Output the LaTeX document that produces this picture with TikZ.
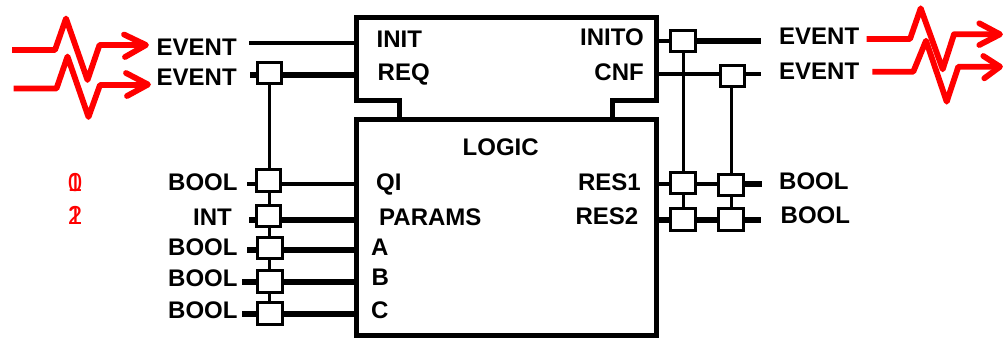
\documentclass[tikz,border=0pt]{standalone}
\usepackage{fontspec}
\setmainfont{Liberation Sans}
\tikzset{
  etiqueta/.style={inner sep=0pt, anchor=base west, font=\fontsize{24}{28}\selectfont\bfseries},
  etiquetad/.style={etiqueta, anchor=base east},
  digito/.style={inner sep=0pt, anchor=base, text=red, font=\fontsize{26}{28}\selectfont},
  bloque/.style={draw=black, line width=5pt, inner sep=0pt},
  adaptador/.style={draw=black, fill=white, line width=3pt, inner sep=0pt, minimum width=24.5pt, minimum height=21.5pt},
  cablefino/.style={line width=3pt},
  cablemedio/.style={line width=4pt},
  cablegrueso/.style={line width=6pt},
  evento/.style={draw=red, line width=5.8pt, line join=round},
  punta/.style={draw=red, line width=5.8pt, line join=round, line cap=round}
}
\begin{document}
\begin{tikzpicture}[x=1pt, y=-1pt]
    \useasboundingbox (0,0) rectangle (1003,338);
    % Bloque inferior
    \node[bloque, minimum width=300pt, minimum height=216pt] (logic) at (506.5,227) {};
    % Bloque superior
    \node[minimum width=300pt, minimum height=82.5pt, inner sep=0pt, outer sep=0pt] (ecc) at (506,58.75) {};
    \coordinate (unionl) at (399,119);
    \coordinate (unionr) at (612.5,119);
    \draw[line width=5pt] (unionl) |- (ecc.south west) |- (ecc.north east) |- (ecc.south -| unionr) -- (unionr);
    % Textos del bloque
    \node[etiqueta] (tinit) at (376.5,47.5) {INIT};
    \node[etiqueta] (treq) at (377.5,80) {REQ};
    \node[etiquetad] (tinito) at (644,45) {INITO};
    \node[etiquetad] (tcnf) at (644,80) {CNF};
    \node[etiqueta] (tlogic) at (462.5,155) {LOGIC};
    \node[etiqueta] (tqi) at (376,190) {QI};
    \node[etiqueta] (tparams) at (379,225.5) {PARAMS};
    \node[etiqueta] (ta) at (371,255.5) {A};
    \node[etiqueta] (tb) at (371.5,285.5) {B};
    \node[etiqueta] (tc) at (371,318) {C};
    \node[etiquetad] (tresa) at (641,190) {RES1};
    \node[etiquetad] (tresb) at (638.5,224) {RES2};
    % Tipos a la izquierda
    \node[etiqueta] (leva) at (156.5,55) {EVENT};
    \node[etiqueta] (levb) at (156.5,85) {EVENT};
    \node[etiqueta] (lba) at (168,190) {BOOL};
    \node[etiqueta] (lint) at (193,225.5) {INT};
    \node[etiqueta] (lbb) at (168,255.5) {BOOL};
    \node[etiqueta] (lbc) at (168,286.5) {BOOL};
    \node[etiqueta] (lbd) at (168,318) {BOOL};
    % Tipos a la derecha
    \node[etiqueta] (reva) at (779,44.5) {EVENT};
    \node[etiqueta] (revb) at (779,79.5) {EVENT};
    \node[etiqueta] (rba) at (779,189.5) {BOOL};
    \node[etiqueta] (rbb) at (780.5,223.5) {BOOL};
    % Digitos superpuestos
    \node[digito] (da) at (75,191.5) {0};
    \node[digito] (db) at (75,191.5) {1};
    \node[digito] (dc) at (75,224.5) {1};
    \node[digito] (dd) at (75,224.5) {2};
    % Adaptadores a la izquierda
    \node[adaptador] (areq) at (269.5,73) {};
    \node[adaptador] (aqi) at (268.5,180.5) {};
    \node[adaptador] (aint) at (268.5,216) {};
    \node[adaptador] (aa) at (270,248) {};
    \node[adaptador] (ab) at (270,281.5) {};
    \node[adaptador] (ac) at (270,313.7) {};
    % Adaptadores a la derecha
    \node[adaptador] (ainito) at (683,41) {};
    \node[adaptador] (acnf) at (732.5,76) {};
    \node[adaptador] (arsa) at (683,183) {};
    \node[adaptador] (arsb) at (731,185) {};
    \node[adaptador] (arsc) at (683,219.7) {};
    \node[adaptador] (arsd) at (731,219.7) {};
    % Entradas
    \coordinate (cinit) at (249,43);
    \coordinate (creq) at (250,75);
    \coordinate (cqi) at (247,184);
    \coordinate (cint) at (249,220);
    \coordinate (ca) at (247,250);
    \coordinate (cb) at (242,281.7);
    \coordinate (cbfin) at (359,281.7);
    \coordinate (cc) at (242,313.7);
    \draw[cablemedio] (cinit) -- (cinit -| ecc.west);
    \draw[cablegrueso] (creq) -- (creq -| areq.west);
    \draw[cablegrueso] (creq -| areq.east) -- (creq -| ecc.west);
    \draw[cablemedio] (cqi) -- (cqi -| aqi.west);
    \draw[cablemedio] (cqi -| aqi.east) -- (cqi -| logic.west);
    \draw[cablegrueso] (cint) -- (cint -| aint.west);
    \draw[cablegrueso] (cint -| aint.east) -- (cint -| logic.west);
    \draw[cablegrueso] (ca) -- (ca -| aa.west);
    \draw[cablegrueso] (ca -| aa.east) -- (ca -| logic.west);
    \draw[cablegrueso] (cb) -- (cb -| ab.west);
    \draw[cablegrueso] (cb -| ab.east) -- (cbfin);
    \draw[cablegrueso] (cc) -- (cc -| ac.west);
    \draw[cablegrueso] (cc -| ac.east) -- (cc -| logic.west);
    % Salidas
    \coordinate (cinito) at (761,40.7);
    \coordinate (ccnf) at (761,74.3);
    \coordinate (cresa) at (761.5,184.3);
    \coordinate (cresb) at (761,220);
    \draw[cablemedio] (cinito -| ecc.east) -- (cinito -| ainito.west);
    \draw[cablegrueso] (cinito -| ainito.east) -- (cinito);
    \draw[cablemedio] (ccnf -| ecc.east) -- (ccnf -| acnf.west);
    \draw[cablemedio] (ccnf -| acnf.east) -- (ccnf);
    \draw[cablemedio] (cresa -| logic.east) -- (cresa -| arsa.west);
    \draw[cablemedio] (cresa -| arsa.east) -- (cresa -| arsb.west);
    \draw[cablegrueso] (cresa -| arsb.east) -- (cresa);
    \draw[cablegrueso] (cresb -| logic.east) -- (cresb -| arsc.west);
    \draw[cablegrueso] (cresb -| arsc.east) -- (cresb -| arsd.west);
    \draw[cablegrueso] (cresb -| arsd.east) -- (cresb);
    % Uniones verticales
    \draw[cablefino] (areq) -- (aqi.north -| areq);
    \draw[cablefino] (aqi.south -| areq) -- (aint.north -| areq);
    \draw[cablefino] (aint.south -| areq) -- (aa.north -| areq);
    \draw[cablefino] (aa.south -| areq) -- (ab.north -| areq);
    \draw[cablefino] (ab.south -| areq) -- (ac.north -| areq);
    \draw[cablefino] (ainito) -- (arsa);
    \draw[cablefino] (arsa) -- (arsc);
    \draw[cablefino] (acnf.south -| arsb) -- (arsb);
    \draw[cablefino] (arsb) -- (arsd);
    % Pulsos de evento
    \draw[evento] (12,50) -- (55,50) -- (66,18.5) -- (87.5,80) -- (99.5,45) -- (146,45);
    \draw[punta] (124,34.5) -- (146,45) -- (125,57);
    \draw[evento] (13.5,88.5) -- (56.5,88.5) -- (67.5,56.5) -- (88.5,117) -- (100,85) -- (148,85);
    \draw[punta] (126,73) -- (148,84.5) -- (127,96);
    \draw[evento] (866.7,39) -- (910,39) -- (920.7,8.3) -- (942.7,69.3) -- (954,34.3) -- (1000,34.3);
    \draw[punta] (979.3,23.3) -- (1000,34.3) -- (979.3,45);
    \draw[evento] (872.3,71.7) -- (913.3,71.7) -- (926,40.7) -- (946.7,101.7) -- (958.3,66.7) -- (1000,66.7);
    \draw[punta] (983.3,56) -- (1000,66.7) -- (984.3,78.3);
\end{tikzpicture}
\end{document}
